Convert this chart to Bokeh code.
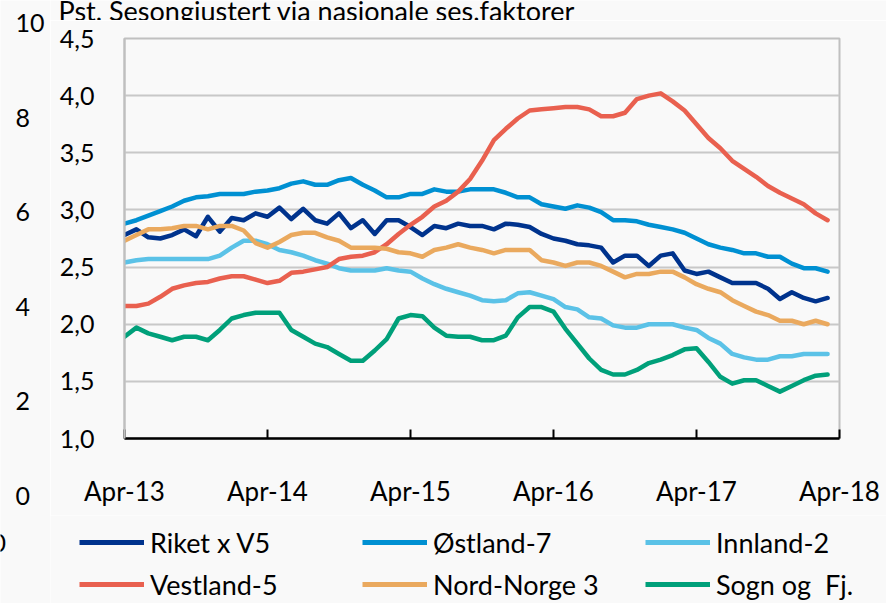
from bokeh.plotting import figure
from bokeh.layouts import row, column
from bokeh.models import (Range1d, FixedTicker, Legend, LegendItem, Label,
                          LabelSet, ColumnDataSource)
from bokeh.core.properties import value
from bokeh.embed import file_html
from bokeh.resources import INLINE

# ---------------- data ----------------
# monthly observations, Apr-13 ... Mar-18 (60 months)
months = [f"{m}-{y}" for y in range(13, 19) for m in
          ["Jan", "Feb", "Mar", "Apr", "May", "Jun", "Jul", "Aug", "Sep", "Oct", "Nov", "Dec"]][3:63]

riket = [2.78, 2.83, 2.76, 2.75, 2.78, 2.83, 2.77, 2.94, 2.81, 2.93, 2.91, 2.97,
         2.94, 3.02, 2.92, 3.01, 2.91, 2.88, 2.97, 2.84, 2.91, 2.79, 2.91, 2.91,
         2.85, 2.78, 2.86, 2.84, 2.88, 2.86, 2.86, 2.83, 2.88, 2.87, 2.85, 2.79,
         2.75, 2.73, 2.70, 2.69, 2.67, 2.54, 2.60, 2.60, 2.51, 2.60, 2.62, 2.47,
         2.44, 2.46, 2.41, 2.36, 2.36, 2.36, 2.31, 2.22, 2.28, 2.23, 2.20, 2.23]
ostland = [2.88, 2.91, 2.95, 2.99, 3.03, 3.08, 3.11, 3.12, 3.14, 3.14, 3.14, 3.16,
           3.17, 3.19, 3.23, 3.25, 3.22, 3.22, 3.26, 3.28, 3.22, 3.17, 3.11, 3.11,
           3.14, 3.14, 3.18, 3.16, 3.16, 3.18, 3.18, 3.18, 3.15, 3.11, 3.11, 3.05,
           3.03, 3.01, 3.04, 3.02, 2.98, 2.91, 2.91, 2.90, 2.87, 2.85, 2.83, 2.80,
           2.75, 2.70, 2.67, 2.65, 2.62, 2.62, 2.59, 2.59, 2.53, 2.49, 2.49, 2.46]
innland = [2.54, 2.56, 2.57, 2.57, 2.57, 2.57, 2.57, 2.57, 2.60, 2.67, 2.73, 2.73,
           2.70, 2.65, 2.63, 2.60, 2.56, 2.53, 2.49, 2.47, 2.47, 2.47, 2.49, 2.47,
           2.46, 2.40, 2.35, 2.31, 2.28, 2.25, 2.21, 2.20, 2.21, 2.27, 2.28, 2.25,
           2.22, 2.15, 2.13, 2.06, 2.05, 1.99, 1.97, 1.97, 2.00, 2.00, 2.00, 1.97,
           1.95, 1.88, 1.83, 1.74, 1.71, 1.69, 1.69, 1.72, 1.72, 1.74, 1.74, 1.74]
vestland = [2.16, 2.16, 2.18, 2.24, 2.31, 2.34, 2.36, 2.37, 2.40, 2.42, 2.42, 2.39,
            2.36, 2.38, 2.45, 2.46, 2.48, 2.50, 2.57, 2.59, 2.60, 2.63, 2.70, 2.79,
            2.87, 2.94, 3.03, 3.08, 3.16, 3.27, 3.43, 3.61, 3.71, 3.80, 3.87, 3.88,
            3.89, 3.90, 3.90, 3.88, 3.82, 3.82, 3.85, 3.97, 4.00, 4.02, 3.95, 3.87,
            3.75, 3.63, 3.54, 3.43, 3.36, 3.29, 3.21, 3.15, 3.10, 3.05, 2.97, 2.91]
nordnorge = [2.73, 2.78, 2.83, 2.83, 2.84, 2.86, 2.86, 2.83, 2.86, 2.86, 2.82, 2.71,
             2.67, 2.72, 2.78, 2.80, 2.80, 2.76, 2.73, 2.67, 2.67, 2.67, 2.66, 2.63,
             2.62, 2.59, 2.65, 2.67, 2.70, 2.67, 2.65, 2.62, 2.65, 2.65, 2.65, 2.56,
             2.54, 2.51, 2.54, 2.54, 2.51, 2.46, 2.41, 2.44, 2.44, 2.46, 2.46, 2.41,
             2.35, 2.31, 2.28, 2.21, 2.16, 2.11, 2.08, 2.03, 2.03, 2.00, 2.03, 2.00]
sogn = [1.89, 1.97, 1.92, 1.89, 1.86, 1.89, 1.89, 1.86, 1.95, 2.05, 2.08, 2.10,
        2.10, 2.10, 1.95, 1.89, 1.83, 1.80, 1.74, 1.68, 1.68, 1.77, 1.87, 2.05,
        2.08, 2.07, 1.97, 1.90, 1.89, 1.89, 1.86, 1.86, 1.90, 2.06, 2.15, 2.15,
        2.11, 1.96, 1.83, 1.70, 1.60, 1.56, 1.56, 1.60, 1.66, 1.69, 1.73, 1.78,
        1.79, 1.67, 1.54, 1.48, 1.51, 1.51, 1.46, 1.41, 1.46, 1.51, 1.55, 1.56]

series_names = ["Riket x V5", "Østland-7", "Innland-2", "Vestland-5", "Nord-Norge 3", "Sogn og  Fj."]
series_values = [riket, ostland, innland, vestland, nordnorge, sogn]
series_colors = ["#00338D", "#0090D2", "#5BC2E7", "#E9604F", "#EAA95E", "#00A07A"]

x_tick_pos = [0, 12, 24, 36, 48, 60]
x_tick_labels = ["Apr-13", "Apr-14", "Apr-15", "Apr-16", "Apr-17", "Apr-18"]
y_ticks = [1.0, 1.5, 2.0, 2.5, 3.0, 3.5, 4.0, 4.5]
y_tick_labels = ["1,0", "1,5", "2,0", "2,5", "3,0", "3,5", "4,0", "4,5"]
# tick labels of the neighbouring chart's axis that shows at the left edge
outer_ticks = [10, 8, 6, 4, 2, 0]
outer_labels = ["10", "8", "6", "4", "2", "0"]
title_text = "Pst. Sesongjustert via nasjonale ses.faktorer"

FONT = "Lato"
BG = "#f9f9f9"


def bare(w, h, **kw):
    return figure(width=w, height=h, output_backend="svg", toolbar_location=None,
                  x_axis_type=None, y_axis_type=None, min_border=0, frame_align=False,
                  background_fill_color=BG, border_fill_color=BG,
                  outline_line_color=None, **kw)


# ---------------- left strip: neighbouring axis labels ----------------
left = bare(50, 603, x_range=Range1d(0, 1), y_range=Range1d(-2.273, 10.476))
left.add_layout(LabelSet(x=15, y="y", text="text", x_units="screen",
                         source=ColumnDataSource(dict(y=outer_ticks, text=outer_labels)),
                         text_align="left", text_baseline="middle",
                         text_font=value(FONT), text_font_size=value("25px"),
                         text_color="black"))
left.add_layout(Label(x=-9, y=61, x_units="screen", y_units="screen", text="0",
                      text_font=FONT, text_font_size="25px", text_color="black",
                      text_align="left", text_baseline="middle"))

# ---------------- top strip: cut-off subtitle ----------------
top = bare(836, 20, x_range=Range1d(0, 1), y_range=Range1d(0, 1))
top.add_layout(Label(x=8, y=10, x_units="screen", y_units="screen", text=title_text,
                     text_font=FONT, text_font_size="27px", text_color="black",
                     text_baseline="alphabetic"))

# ---------------- main chart ----------------
p = figure(width=836, height=495, output_backend="svg", toolbar_location=None,
           x_range=Range1d(0, 60), y_range=Range1d(1.0, 4.5), frame_align=False,
           min_border_left=74, min_border_right=47, min_border_top=18,
           min_border_bottom=77, background_fill_color=BG, border_fill_color=BG,
           outline_line_color="#c0c0c0", outline_line_width=2)

x = list(range(len(months)))
for vals, col in zip(series_values, series_colors):
    p.line(x, vals, line_color=col, line_width=4.5, line_join="round", line_cap="round")

p.xaxis.ticker = FixedTicker(ticks=x_tick_pos)
p.xaxis.major_label_overrides = {t: l for t, l in zip(x_tick_pos, x_tick_labels)}
p.xaxis.axis_line_color = "black"
p.xaxis.axis_line_width = 2.5
p.xaxis.major_tick_in = 9
p.xaxis.major_tick_out = 0
p.xaxis.major_tick_line_color = "black"
p.xaxis.major_tick_line_width = 2
p.xaxis.minor_tick_line_color = None
p.xaxis.major_label_standoff = 36
p.xaxis.major_label_text_font = FONT
p.xaxis.major_label_text_font_size = "26px"
p.xaxis.major_label_text_color = "black"

p.yaxis.ticker = FixedTicker(ticks=y_ticks)
p.yaxis.major_label_overrides = {t: l for t, l in zip(y_ticks, y_tick_labels)}
p.yaxis.axis_line_color = "#bfbfbf"
p.yaxis.axis_line_width = 2
p.yaxis.major_tick_line_color = None
p.yaxis.minor_tick_line_color = None
p.yaxis.major_label_standoff = 24
p.yaxis.major_label_text_font = FONT
p.yaxis.major_label_text_font_size = "25px"
p.yaxis.major_label_text_color = "black"

p.xgrid.visible = False
p.ygrid.grid_line_color = "#c8c8c8"
p.ygrid.grid_line_width = 2

# ---------------- bottom strip: legend ----------------
# legend keys reuse the series (drawn outside this strip's visible range)
bottom = bare(836, 88, x_range=Range1d(0, 1), y_range=Range1d(0, 1))
items = []
for name, vals, col in zip(series_names, series_values, series_colors):
    r = bottom.line(x, vals, line_color=col, line_width=5)
    items.append(LegendItem(label=name, renderers=[r]))
leg = Legend(items=items, location=(29, -2), orientation="horizontal", ncols=3,
             padding=0, margin=0, spacing=0, border_line_color=None,
             background_fill_alpha=0, glyph_width=65, glyph_height=42,
             label_height=42, label_width=212, label_standoff=6,
             label_text_font=FONT, label_text_font_size="27px",
             label_text_color="black")
bottom.add_layout(leg, "center")

layout = row(left, column(top, p, bottom, spacing=0), spacing=0)
open("out.html", "w").write(file_html(layout, INLINE))
